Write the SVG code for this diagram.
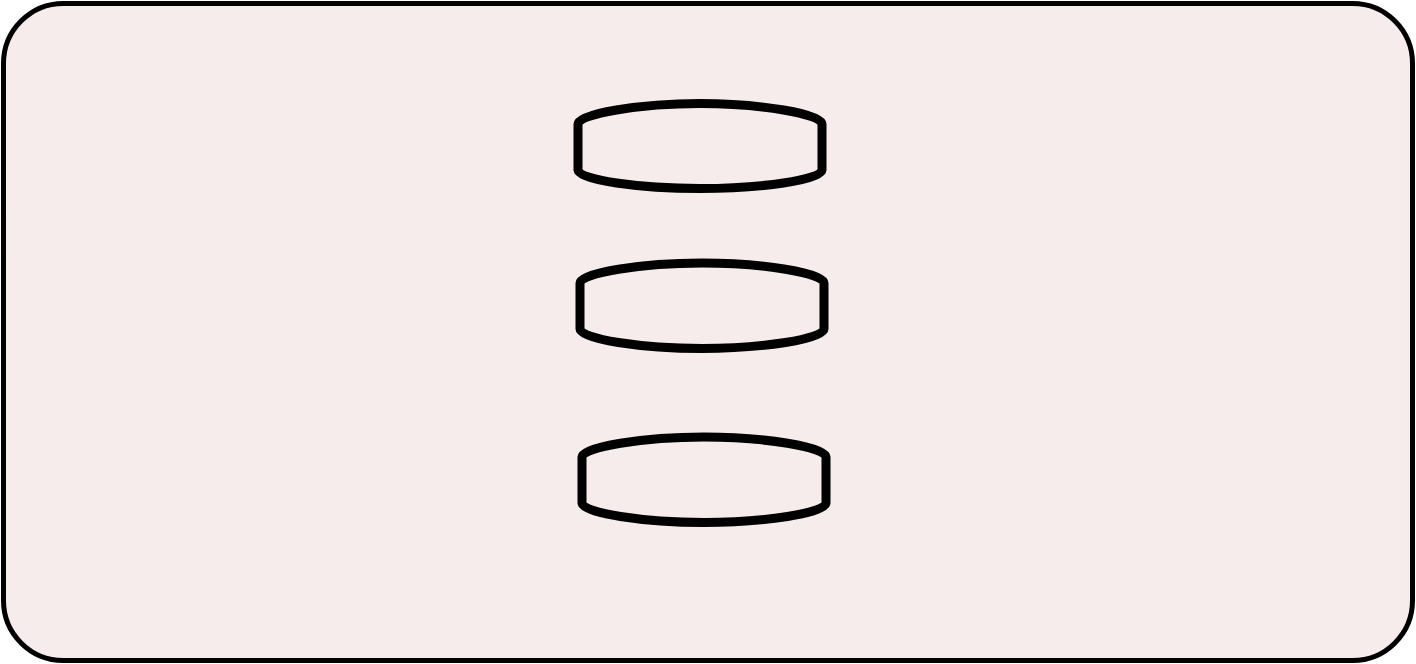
<svg xmlns="http://www.w3.org/2000/svg" width="1416" height="664" viewBox="0 0 1416 664">
<style>
.frame{fill:#f6eceb;stroke:#000;stroke-width:5}
.disk{fill:none;stroke:#000;stroke-width:9;stroke-linejoin:round}
</style>
<rect width="1416" height="664" fill="#fff"/>
<g id="frame"><rect class="frame" x="3.5" y="3.5" width="1409" height="657" rx="60" ry="60"/></g>
<g id="disk1"><path class="disk" d="M578,170 L578,124 C578,114 640,103.5 700,103.5 C760,103.5 822,114 822,124 L822,170 C822,180 760,188.5 700,188.5 C640,188.5 578,180 578,170 Z"/></g>
<g id="disk2"><path class="disk" d="M580,329 L580,283 C580,273 642,263 702,263 C762,263 824,273 824,283 L824,329 C824,339 762,348.5 702,348.5 C642,348.5 580,339 580,329 Z"/></g>
<g id="disk3"><path class="disk" d="M582,503 L582,457 C582,447 644,437 704,437 C764,437 826,447 826,457 L826,503 C826,513 764,522.5 704,522.5 C644,522.5 582,513 582,503 Z"/></g>
<g id="connectors"></g>
</svg>
